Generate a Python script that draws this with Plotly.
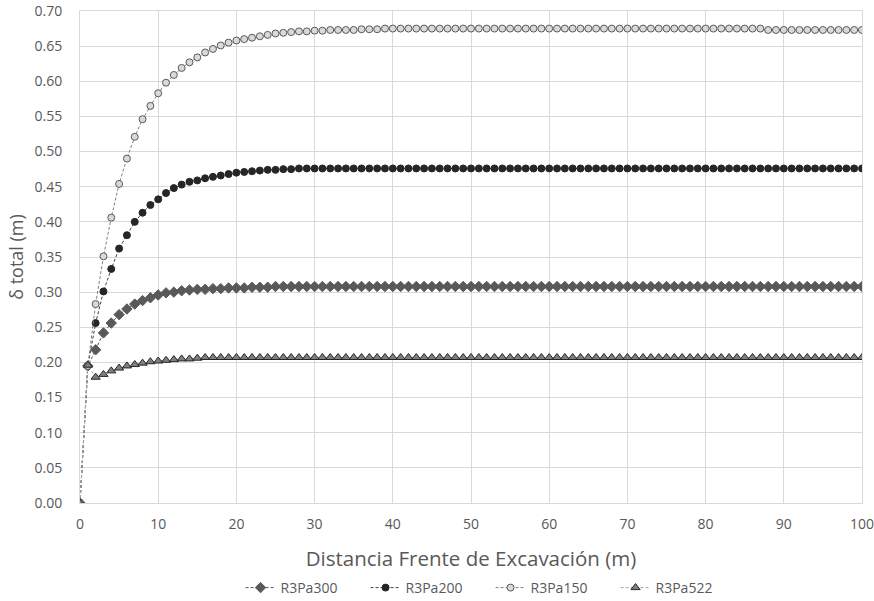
import plotly.graph_objects as go

# Distance from the excavation face (m)
distancia = list(range(0, 101))

r3pa300 = [
    0.000, 0.195, 0.218, 0.242, 0.256, 0.268, 0.276, 0.283, 0.288, 0.292,
    0.296, 0.299, 0.300, 0.302, 0.303, 0.304, 0.304, 0.305, 0.305, 0.306,
    0.306, 0.306, 0.307, 0.307, 0.307, 0.308, 0.308, 0.308, 0.308, 0.308,
    0.308, 0.308, 0.308, 0.308, 0.308, 0.308, 0.308, 0.308, 0.308, 0.308,
    0.308, 0.308, 0.308, 0.308, 0.308, 0.308, 0.308, 0.308, 0.308, 0.308,
    0.308, 0.308, 0.308, 0.308, 0.308, 0.308, 0.308, 0.308, 0.308, 0.308,
    0.308, 0.308, 0.308, 0.308, 0.308, 0.308, 0.308, 0.308, 0.308, 0.308,
    0.308, 0.308, 0.308, 0.308, 0.308, 0.308, 0.308, 0.308, 0.308, 0.308,
    0.308, 0.308, 0.308, 0.308, 0.308, 0.308, 0.308, 0.308, 0.308, 0.308,
    0.308, 0.308, 0.308, 0.308, 0.308, 0.308, 0.308, 0.308, 0.308, 0.308,
    0.308,
]

r3pa200 = [
    0.000, 0.195, 0.256, 0.301, 0.333, 0.362, 0.381, 0.400, 0.413, 0.424,
    0.432, 0.441, 0.448, 0.453, 0.457, 0.459, 0.462, 0.464, 0.466, 0.468,
    0.470, 0.471, 0.472, 0.473, 0.474, 0.474, 0.475, 0.475, 0.476, 0.476,
    0.476, 0.476, 0.476, 0.476, 0.476, 0.476, 0.476, 0.476, 0.476, 0.476,
    0.476, 0.476, 0.476, 0.476, 0.476, 0.476, 0.476, 0.476, 0.476, 0.476,
    0.476, 0.476, 0.476, 0.476, 0.476, 0.476, 0.476, 0.476, 0.476, 0.476,
    0.476, 0.476, 0.476, 0.476, 0.476, 0.476, 0.476, 0.476, 0.476, 0.476,
    0.476, 0.476, 0.476, 0.476, 0.476, 0.476, 0.476, 0.476, 0.476, 0.476,
    0.476, 0.476, 0.476, 0.476, 0.476, 0.476, 0.476, 0.476, 0.476, 0.476,
    0.476, 0.476, 0.476, 0.476, 0.476, 0.476, 0.476, 0.476, 0.476, 0.476,
    0.476,
]

r3pa150 = [
    0.000, 0.195, 0.283, 0.351, 0.406, 0.454, 0.490, 0.521, 0.546, 0.565,
    0.583, 0.598, 0.609, 0.619, 0.627, 0.634, 0.641, 0.646, 0.651, 0.655,
    0.658, 0.660, 0.662, 0.664, 0.666, 0.668, 0.669, 0.670, 0.671, 0.671,
    0.672, 0.672, 0.673, 0.673, 0.673, 0.673, 0.674, 0.674, 0.674, 0.675,
    0.675, 0.675, 0.675, 0.675, 0.675, 0.675, 0.675, 0.675, 0.675, 0.675,
    0.675, 0.675, 0.675, 0.675, 0.675, 0.675, 0.675, 0.675, 0.675, 0.675,
    0.675, 0.675, 0.675, 0.675, 0.675, 0.675, 0.675, 0.675, 0.675, 0.675,
    0.675, 0.675, 0.675, 0.675, 0.675, 0.675, 0.675, 0.675, 0.675, 0.675,
    0.675, 0.675, 0.675, 0.675, 0.675, 0.675, 0.675, 0.675, 0.673, 0.673,
    0.673, 0.673, 0.673, 0.673, 0.673, 0.673, 0.673, 0.673, 0.673, 0.673,
    0.673,
]

r3pa522 = [
    0.000, 0.196, 0.179, 0.183, 0.188, 0.192, 0.195, 0.197, 0.199, 0.201,
    0.202, 0.203, 0.204, 0.205, 0.205, 0.206, 0.207, 0.207, 0.207, 0.207,
    0.207, 0.207, 0.207, 0.207, 0.207, 0.207, 0.207, 0.207, 0.207, 0.207,
    0.207, 0.207, 0.207, 0.207, 0.207, 0.207, 0.207, 0.207, 0.207, 0.207,
    0.207, 0.207, 0.207, 0.207, 0.207, 0.207, 0.207, 0.207, 0.207, 0.207,
    0.207, 0.207, 0.207, 0.207, 0.207, 0.207, 0.207, 0.207, 0.207, 0.207,
    0.207, 0.207, 0.207, 0.207, 0.207, 0.207, 0.207, 0.207, 0.207, 0.207,
    0.207, 0.207, 0.207, 0.207, 0.207, 0.207, 0.207, 0.207, 0.207, 0.207,
    0.207, 0.207, 0.207, 0.207, 0.207, 0.207, 0.207, 0.207, 0.207, 0.207,
    0.207, 0.207, 0.207, 0.207, 0.207, 0.207, 0.207, 0.207, 0.207, 0.207,
    0.207,
]

y_ticks = [0.00, 0.05, 0.10, 0.15, 0.20, 0.25, 0.30, 0.35, 0.40, 0.45,
           0.50, 0.55, 0.60, 0.65, 0.70]
x_ticks = [0, 10, 20, 30, 40, 50, 60, 70, 80, 90, 100]

FONT = "Open Sans"
TEXT = "#595959"
GRID = "#d9d9d9"

series = [
    dict(name="R3Pa300", y=r3pa300, symbol="diamond", size=8,
         fill="#595959", edge="#595959", line="#595959"),
    dict(name="R3Pa200", y=r3pa200, symbol="circle", size=7,
         fill="#262626", edge="#262626", line="#404040"),
    dict(name="R3Pa150", y=r3pa150, symbol="circle", size=7,
         fill="#d9d9d9", edge="#595959", line="#7f7f7f"),
    dict(name="R3Pa522", y=r3pa522, symbol="triangle-up", size=8,
         fill="#7f7f7f", edge="#262626", line="#a6a6a6"),
]

fig = go.Figure()
for s in series:
    fig.add_trace(go.Scatter(
        x=distancia, y=s["y"], name=s["name"], mode="lines+markers",
        line=dict(color=s["line"], width=1, dash="3px,2px"),
        marker=dict(symbol=s["symbol"], size=s["size"], color=s["fill"],
                    line=dict(color=s["edge"], width=1)),
    ))

fig.update_layout(
    width=874, height=601,
    margin=dict(l=80, r=12, t=11, b=98),
    paper_bgcolor="white", plot_bgcolor="white",
    font=dict(family=FONT, color=TEXT, size=12),
    showlegend=True,
    legend=dict(orientation="h", x=0.525, xanchor="center",
                yref="container", y=1 - 588 / 601, yanchor="middle",
                font=dict(size=14, color=TEXT),
                entrywidth=80, tracegroupgap=0),
    xaxis=dict(
        range=[0, 100], tickvals=x_ticks, showgrid=True,
        gridcolor=GRID, gridwidth=1, zeroline=False,
        showline=True, mirror=True, linecolor=GRID, linewidth=1,
        ticks="outside", ticklen=8, tickcolor="rgba(0,0,0,0)",
        ticklabeloverflow="allow",
        tickfont=dict(size=14, color=TEXT), automargin=False,
        title=dict(text="Distancia Frente de Excavación (m)",
                   font=dict(size=20.5, color=TEXT), standoff=20),
    ),
    yaxis=dict(
        range=[0, 0.70], tickvals=y_ticks, tickformat=".2f", showgrid=True,
        gridcolor=GRID, gridwidth=1, zeroline=False,
        showline=True, mirror=True, linecolor=GRID, linewidth=1,
        ticks="outside", ticklen=14, tickcolor="rgba(0,0,0,0)",
        ticklabeloverflow="allow",
        tickfont=dict(size=14, color=TEXT), automargin=False,
        title=dict(text="δ total (m)", font=dict(size=18, color=TEXT),
                   standoff=6),
    ),
)

fig.write_html("out.html")
